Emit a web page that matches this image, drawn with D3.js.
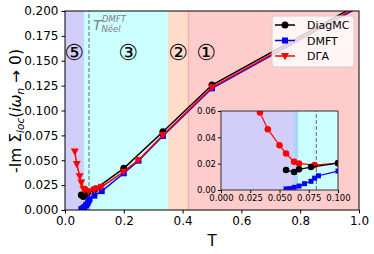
<!DOCTYPE html>
<html>
<head>
<meta charset="utf-8">
<script src="https://cdn.jsdelivr.net/npm/d3@7"></script>
<style>
  body { margin: 0; background: #fff; }
  text { font-family: "DejaVu Sans", sans-serif; }
</style>
</head>
<body>
<div id="chart"></div>
<script>
"use strict";
// temperatures and -Im Sigma values
var diagT = [0.0556, 0.0625, 0.0667, 0.0769, 0.1, 0.2, 0.333, 0.5, 1.0];
var diagV = [0.0151, 0.0136, 0.0157, 0.0174, 0.0204, 0.0419, 0.0787, 0.1256, 0.207];

var dmftT = [0.0556, 0.0588, 0.0625, 0.0667, 0.0714, 0.0769, 0.08, 0.0833, 0.1, 0.125, 0.2, 0.25, 0.333, 0.5, 1.0];
var dmftV = [0.0008, 0.001, 0.002, 0.003, 0.0048, 0.0066, 0.009, 0.0108, 0.0144, 0.019, 0.0369, 0.0496, 0.0744, 0.1223, 0.204];

var dgaT = [0.0333, 0.04, 0.05, 0.0556, 0.0625, 0.0667, 0.08, 0.1, 0.111, 0.125, 0.2, 0.25, 0.333, 0.5, 1.0];
var dgaV = [0.0588, 0.0462, 0.034, 0.0277, 0.0214, 0.0202, 0.0189, 0.0205, 0.0218, 0.0234, 0.0385, 0.0503, 0.0754, 0.1233, 0.205];

// phase regions (T boundaries)
var regionT = [[0, 0.062], [0.062, 0.066], [0.066, 0.35], [0.35, 0.42], [0.42, 1.0]];
var regionColor = ["#d2cdf9", "#a9d6ff", "#ccffff", "#ffdcca", "#ffcccc"];
var regionLabels = ["⑤", "③", "②", "①"];
var regionLabelT = [0.031, 0.215, 0.385, 0.48];
var tNeel = 0.0815;

var xTicks = [0, 0.2, 0.4, 0.6, 0.8, 1.0];
var yTicks = [0, 0.025, 0.05, 0.075, 0.1, 0.125, 0.15, 0.175, 0.2];
var xiTicks = [0, 0.025, 0.05, 0.075, 0.1];
var yiTicks = [0, 0.02, 0.04, 0.06];

var seriesNames = ["DiagMC", "DMFT", "DΓA"];
var seriesColors = ["#000000", "#0000ff", "#ff0000"];

var w = 374, h = 254;

var svg = d3.select("#chart").append("svg")
  .attr("width", w).attr("height", h);

var x = d3.scaleLinear().domain([0, 1]).range([65, 359]);
var y = d3.scaleLinear().domain([0, 0.2]).range([210, 11]);
var xi = d3.scaleLinear().domain([0, 0.1]).range([221, 338]);
var yi = d3.scaleLinear().domain([0, 0.06]).range([190, 111]);

var defs = svg.append("defs");
defs.append("clipPath").attr("id", "clipMain").append("rect")
  .attr("x", x(0)).attr("y", y(0.2)).attr("width", x(1) - x(0)).attr("height", y(0) - y(0.2));
defs.append("clipPath").attr("id", "clipInset").append("rect")
  .attr("x", xi(0)).attr("y", yi(0.06)).attr("width", xi(0.1) - xi(0)).attr("height", yi(0) - yi(0.06));

function zip(a, b) {
  return a.map(function(d, i) { return [d, b[i]]; });
}

var diag = zip(diagT, diagV), dmft = zip(dmftT, dmftV), dga = zip(dgaT, dgaV);

//marker shapes
function markerPath(kind, s) {
  if (kind == "circle") return d3.symbol(d3.symbolCircle, Math.PI * s * s / 4)();
  if (kind == "square") return "M" + (-s / 2) + "," + (-s / 2) + "h" + s + "v" + s + "h" + (-s) + "Z";
  var r = s / 2;
  return "M" + (-r) + "," + (-r * 0.75) + "L" + r + "," + (-r * 0.75) + "L0," + (r * 1.05) + "Z";
}

function drawPanel(g, sx, sy, clipId, xmax, series, isInset) {
  var plot = g.append("g").attr("clip-path", "url(#" + clipId + ")");
  regionT.forEach(function(r, i) {
    if (r[0] >= xmax) return;
    plot.append("rect")
      .attr("x", sx(r[0])).attr("y", sy.range()[1])
      .attr("width", sx(Math.min(r[1], xmax)) - sx(r[0]))
      .attr("height", sy.range()[0] - sy.range()[1])
      .attr("fill", regionColor[i]);
  });
  if (xmax > 0.42) {
    plot.append("line").attr("x1", sx(0.42)).attr("x2", sx(0.42))
      .attr("y1", sy.range()[0]).attr("y2", sy.range()[1])
      .attr("stroke", "#ffaaa0").attr("stroke-width", 1.2);
  }
  plot.append("line").attr("x1", sx(tNeel)).attr("x2", sx(tNeel))
    .attr("y1", sy.range()[0]).attr("y2", sy.range()[1])
    .attr("stroke", "#808080").attr("stroke-width", 1.2)
    .attr("stroke-dasharray", "4,2");

  var line = d3.line().x(function(d) { return sx(d[0]); }).y(function(d) { return sy(d[1]); });
  series.forEach(function(s) {
    plot.append("path").datum(s.data)
      .attr("d", line).attr("fill", "none")
      .attr("stroke", s.color).attr("stroke-width", isInset ? 1.2 : 1.5);
    plot.selectAll(null).data(s.data).enter().append("path")
      .attr("transform", function(d) { return "translate(" + sx(d[0]) + "," + sy(d[1]) + ")"; })
      .attr("d", markerPath(s.marker, s.size))
      .attr("fill", s.color);
  });
}

// main panel
var main = svg.append("g");
drawPanel(main, x, y, "clipMain", 1.0, [
  { data: diag, color: seriesColors[0], marker: "circle", size: 7 },
  { data: dmft, color: seriesColors[1], marker: "square", size: 6 },
  { data: dga, color: seriesColors[2], marker: "tri", size: 8 }
], false);

regionLabels.forEach(function(l, i) {
  main.append("text").attr("x", x(regionLabelT[i])).attr("y", y(0.158) + 7)
    .attr("text-anchor", "middle").attr("font-size", 22).text(l);
});

var neel = main.append("g").attr("fill", "#808080").attr("font-style", "italic");
neel.append("text").attr("x", 93).attr("y", 30).attr("font-size", 14).text("T");
neel.append("text").attr("x", 102).attr("y", 22).attr("font-size", 8.5).text("DMFT");
neel.append("text").attr("x", 101.5).attr("y", 32).attr("font-size", 8.5).text("Néel");

// main axes
var ax = main.append("g");
ax.append("g").attr("transform", "translate(0," + y(0) + ")")
  .call(d3.axisBottom(x).tickValues(xTicks).tickFormat(d3.format(".1f")).tickSize(3.5).tickPadding(3));
ax.append("g").attr("transform", "translate(" + x(0) + ",0)")
  .call(d3.axisLeft(y).tickValues(yTicks).tickFormat(d3.format(".3f")).tickSize(3.5).tickPadding(3));
ax.selectAll(".domain").remove();
ax.selectAll("text").attr("font-size", 12).attr("font-family", "DejaVu Sans").attr("fill", "#000");
ax.selectAll(".tick line").attr("stroke", "#000");
main.append("rect").attr("x", x(0)).attr("y", y(0.2))
  .attr("width", x(1) - x(0)).attr("height", y(0) - y(0.2))
  .attr("fill", "none").attr("stroke", "#000").attr("stroke-width", 1);

// axis labels
main.append("text").attr("x", x(0.5)).attr("y", 246).attr("text-anchor", "middle")
  .attr("font-size", 15).text("T");
var yl = main.append("text").attr("transform", "translate(21,111) rotate(-90)")
  .attr("text-anchor", "middle").attr("font-size", 15.5);
yl.append("tspan").text("-Im Σ");
yl.append("tspan").attr("font-style", "italic").attr("font-size", 10.5).attr("dy", 3).text("loc");
yl.append("tspan").attr("dy", -3).text("(");
yl.append("tspan").attr("font-style", "italic").text("iω");
yl.append("tspan").attr("font-style", "italic").attr("font-size", 10.5).attr("dy", 3).text("n");
yl.append("tspan").attr("dy", -3).text(" → 0)");

// legend
var leg = main.append("g");
leg.append("rect").attr("x", 272).attr("y", 16).attr("width", 82).attr("height", 51).attr("rx", 3)
  .attr("fill", "#fff").attr("fill-opacity", 0.8).attr("stroke", "#d0d0d0");
var legMarkers = ["circle", "square", "tri"];
var legSizes = [7, 6, 8];
seriesNames.forEach(function(n, i) {
  var ly = 25 + i * 15.5;
  leg.append("line").attr("x1", 275).attr("x2", 295).attr("y1", ly).attr("y2", ly)
    .attr("stroke", seriesColors[i]).attr("stroke-width", 1.5);
  leg.append("path").attr("transform", "translate(285," + ly + ")")
    .attr("d", markerPath(legMarkers[i], legSizes[i])).attr("fill", seriesColors[i]);
  leg.append("text").attr("x", 307).attr("y", ly + 4).attr("font-size", 11).text(n);
});

// inset
var inset = svg.append("g");
drawPanel(inset, xi, yi, "clipInset", 0.1, [
  { data: dmft, color: seriesColors[1], marker: "square", size: 5 },
  { data: dga, color: seriesColors[2], marker: "circle", size: 6.5 },
  { data: diag, color: seriesColors[0], marker: "circle", size: 6.5 }
], true);
var iax = inset.append("g");
iax.append("g").attr("transform", "translate(0," + yi(0) + ")")
  .call(d3.axisBottom(xi).tickValues(xiTicks).tickFormat(d3.format(".3f")).tickSize(3).tickPadding(2));
iax.append("g").attr("transform", "translate(" + xi(0) + ",0)")
  .call(d3.axisLeft(yi).tickValues(yiTicks).tickFormat(d3.format(".2f")).tickSize(3).tickPadding(2));
iax.selectAll(".domain").remove();
iax.selectAll("text").attr("font-size", 8.5).attr("font-family", "DejaVu Sans").attr("fill", "#000");
iax.selectAll(".tick line").attr("stroke", "#000");
inset.append("rect").attr("x", xi(0)).attr("y", yi(0.06))
  .attr("width", xi(0.1) - xi(0)).attr("height", yi(0) - yi(0.06))
  .attr("fill", "none").attr("stroke", "#333").attr("stroke-width", 1);
</script>
</body>
</html>
